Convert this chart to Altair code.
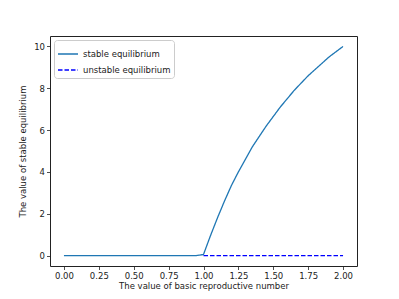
import altair as alt
import pandas as pd

# data
r0_values = [0.0, 0.1, 0.2, 0.3, 0.4, 0.5, 0.6, 0.7, 0.8, 0.9, 0.95, 1.0,
             1.05, 1.1, 1.15, 1.2, 1.25, 1.3, 1.35, 1.4, 1.45, 1.5,
             1.55, 1.6, 1.65, 1.7, 1.75, 1.8, 1.85, 1.9, 1.95, 2.0]
stable_values = [0.0, 0.0, 0.0, 0.0, 0.0, 0.0, 0.0, 0.0, 0.0, 0.0, 0.0, 0.05,
                 0.95, 1.8, 2.6, 3.35, 4.0, 4.6, 5.2, 5.7, 6.2, 6.65,
                 7.1, 7.5, 7.9, 8.25, 8.6, 8.9, 9.2, 9.5, 9.75, 10.0]
unstable_r0 = [1.0, 1.25, 1.5, 1.75, 2.0]
unstable_values = [0.0, 0.0, 0.0, 0.0, 0.0]

series_names = ["stable equilibrium", "unstable equilibrium"]
x_ticks = [0.0, 0.25, 0.5, 0.75, 1.0, 1.25, 1.5, 1.75, 2.0]
y_ticks = [0, 2, 4, 6, 8, 10]

rows = []
for x, y in zip(r0_values, stable_values):
    rows.append({"r0": x, "value": y, "series": series_names[0]})
for x, y in zip(unstable_r0, unstable_values):
    rows.append({"r0": x, "value": y, "series": series_names[1]})
df = pd.DataFrame(rows)

font = "DejaVu Sans"

chart = alt.Chart(df).mark_line(strokeWidth=1.3, clip=True).encode(
    x=alt.X("r0:Q",
            scale=alt.Scale(domain=[-0.1, 2.1], nice=False, zero=False),
            axis=alt.Axis(values=x_ticks, format=".2f",
                          title="The value of basic reproductive number")),
    y=alt.Y("value:Q",
            scale=alt.Scale(domain=[-0.5, 10.5], nice=False, zero=False),
            axis=alt.Axis(values=y_ticks, format="d",
                          title="The value of stable equilibrium")),
    color=alt.Color("series:N",
                    scale=alt.Scale(domain=series_names, range=["#1f77b4", "#0000ff"]),
                    legend=alt.Legend(title=None, orient="top-left", offset=4,
                                      symbolType="stroke", symbolSize=400,
                                      symbolStrokeWidth=1.3,
                                      labelFont=font, labelFontSize=8.5,
                                      labelColor="#222222",
                                      padding=3, rowPadding=0,
                                      strokeColor="#cccccc", fillColor="white",
                                      cornerRadius=3)),
    strokeDash=alt.StrokeDash("series:N",
                              scale=alt.Scale(domain=series_names, range=[[1, 0], [4.5, 2]]),
                              legend=None),
    detail="series:N",
).properties(
    width=307,
    height=230,
    padding={"left": 42, "top": 28, "right": 30, "bottom": 30},
    autosize=alt.AutoSizeParams(type="none"),
).configure_view(
    stroke="#222222", strokeWidth=1
).configure_axis(
    grid=False,
    domain=False,
    tickColor="#222222",
    tickSize=3.5,
    tickWidth=0.8,
    labelFont=font,
    labelFontSize=8.5,
    labelColor="#222222",
    labelPadding=2,
    titleFont=font,
    titleFontSize=8.5,
    titleFontWeight="normal",
    titleColor="#222222",
).configure_axisX(titlePadding=1).configure_axisY(titlePadding=6)

chart.save("out.html", embed_options={"renderer": "svg", "actions": False})
